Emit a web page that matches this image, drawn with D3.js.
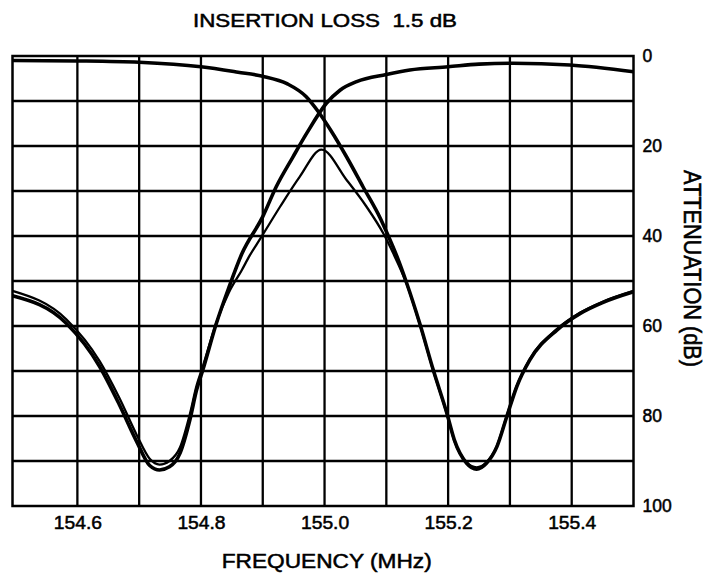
<!DOCTYPE html>
<html><head><meta charset="utf-8">
<script src="https://cdn.jsdelivr.net/npm/d3@7"></script>
<style>
body{margin:0;background:#fff}
svg{display:block}
text{font-family:"Liberation Sans",Arial,Helvetica,sans-serif;fill:#000}
</style>
</head><body>
<svg id="c" width="718" height="575"></svg>
<script>
// ---- text ----
const chartTitle = "INSERTION LOSS  1.5 dB";
const xTitle = "FREQUENCY (MHz)";
const yTitle = "ATTENUATION (dB)";

// ---- ticks / grid ----
const xTickLabels = [154.6, 154.8, 155.0, 155.2, 155.4];
const yTickLabels = [0, 20, 40, 60, 80, 100];
const xGridValues = [154.6, 154.7, 154.8, 154.9, 155.0, 155.1, 155.2, 155.3, 155.4];
const yGridValues = [10, 20, 30, 40, 50, 60, 70, 80, 90];

// ---- series A: low-side passband, notch at ~155.25 MHz ----
const freqA = [154.495, 154.6, 154.7, 154.8, 154.86, 154.9, 154.94, 154.97, 154.99, 155.01, 155.036, 155.062, 155.09, 155.1, 155.117, 155.133, 155.154, 155.176, 155.198, 155.21, 155.23, 155.246, 155.262, 155.279, 155.295, 155.311, 155.332, 155.376, 155.414, 155.45, 155.5];
const lossA = [1.0, 1.1, 1.4, 2.4, 3.6, 4.5, 6.2, 9.0, 12.4, 16.5, 22.5, 29.0, 36.0, 39.0, 44.5, 50.5, 59.4, 69.8, 79.4, 85.3, 90.5, 91.8, 90.5, 86.8, 80.1, 73.5, 67.6, 60.9, 57.2, 54.8, 52.4];

// ---- series B: high-side passband, notch at ~154.73 MHz ----
const freqB = [154.495, 154.582, 154.636, 154.668, 154.696, 154.717, 154.733, 154.749, 154.766, 154.782, 154.793, 154.803, 154.825, 154.845, 154.866, 154.9, 154.922, 154.949, 154.971, 155.003, 155.025, 155.052, 155.1, 155.138, 155.2, 155.25, 155.305, 155.397, 155.5];
const lossB = [53.3, 59.4, 69.0, 77.5, 85.7, 91.0, 92.0, 91.3, 88.3, 80.9, 74.2, 69.8, 59.4, 51.5, 44.0, 35.7, 29.0, 22.4, 17.2, 10.5, 7.6, 5.7, 4.1, 3.1, 2.4, 1.8, 1.6, 2.0, 3.5];

// ---- series C: thin isolation curve ----
const freqC = [154.495, 154.582, 154.636, 154.668, 154.696, 154.717, 154.733, 154.749, 154.766, 154.782, 154.793, 154.803, 154.825, 154.845, 154.866, 154.879, 154.896, 154.928, 154.96, 154.995, 155.036, 155.068, 155.095, 155.111, 155.133, 155.154, 155.176, 155.198, 155.21, 155.23, 155.246, 155.262, 155.279, 155.295, 155.311, 155.332, 155.376, 155.414, 155.45, 155.5];
const lossC = [52.2, 58.5, 67.8, 76.0, 84.2, 89.5, 90.8, 90.0, 87.0, 79.6, 73.2, 69.0, 59.2, 52.6, 47.6, 44.3, 40.6, 33.5, 26.8, 20.8, 27.6, 33.5, 39.4, 43.8, 50.7, 59.6, 70.0, 79.6, 85.5, 90.3, 91.4, 90.3, 86.6, 79.9, 73.3, 67.4, 60.7, 57.0, 54.6, 52.2];

const svg = d3.select("#c");
const x = d3.scaleLinear().domain([154.495, 155.5]).range([12.5, 633.5]);
const y = d3.scaleLinear().domain([0, 100]).range([56, 506]);

const [x0, x1] = x.range();
const [y0, y1] = y.range();

// grid
svg.append("g").selectAll("line").data(xGridValues).join("line")
  .attr("x1", d => x(d)).attr("x2", d => x(d))
  .attr("y1", y0).attr("y2", y1)
  .attr("stroke", "#000").attr("stroke-width", 2.3);
svg.append("g").selectAll("line").data(yGridValues).join("line")
  .attr("x1", x0).attr("x2", x1)
  .attr("y1", d => y(d)).attr("y2", d => y(d))
  .attr("stroke", "#000").attr("stroke-width", 2.3);

// frame
svg.append("rect").attr("x", x0).attr("y", y0)
  .attr("width", x1 - x0).attr("height", y1 - y0)
  .attr("fill", "none").attr("stroke", "#000").attr("stroke-width", 2.5);

// curves
svg.append("defs").append("clipPath").attr("id", "clip")
  .append("rect").attr("x", x0).attr("y", y0).attr("width", x1 - x0).attr("height", y1 - y0);

const line = d3.line().x(d => x(d.f)).y(d => y(d.a)).curve(d3.curveMonotoneX);
const toPts = (fs, as) => fs.map((f, i) => ({f, a: as[i]}));

const g = svg.append("g").attr("clip-path", "url(#clip)");
g.append("path").attr("d", line(toPts(freqC, lossC)))
  .attr("fill", "none").attr("stroke", "#000").attr("stroke-width", 2.3);
g.append("path").attr("d", line(toPts(freqA, lossA)))
  .attr("fill", "none").attr("stroke", "#000").attr("stroke-width", 3.6);
g.append("path").attr("d", line(toPts(freqB, lossB)))
  .attr("fill", "none").attr("stroke", "#000").attr("stroke-width", 3.6);

// axes
const xAxis = svg.append("g").attr("transform", `translate(0,${y1})`)
  .call(d3.axisBottom(x).tickValues(xTickLabels).tickSize(0).tickPadding(10).tickFormat(d3.format(".1f")));
xAxis.select(".domain").remove();
xAxis.selectAll("text").attr("font-size", 18).attr("transform", "scale(1.07,1)")
  .attr("stroke", "#000").attr("stroke-width", 0.5)
  .style("font-family", '"Liberation Sans",Arial,sans-serif');

const yAxis = svg.append("g").attr("transform", `translate(${x1},0)`)
  .call(d3.axisRight(y).tickValues(yTickLabels).tickSize(0).tickPadding(9));
yAxis.select(".domain").remove();
yAxis.selectAll("text").attr("font-size", 17.5)
  .attr("stroke", "#000").attr("stroke-width", 0.5)
  .style("font-family", '"Liberation Sans",Arial,sans-serif');

// titles
svg.append("text").attr("x", 325).attr("y", 26.5)
  .attr("text-anchor", "middle").attr("font-size", 18.5)
  .attr("textLength", 264).attr("lengthAdjust", "spacingAndGlyphs")
  .style("white-space", "pre")
  .attr("stroke", "#000").attr("stroke-width", 0.5)
  .text(chartTitle);

svg.append("text").attr("x", 326.7).attr("y", 568)
  .attr("text-anchor", "middle").attr("font-size", 20)
  .attr("textLength", 210).attr("lengthAdjust", "spacingAndGlyphs")
  .attr("stroke", "#000").attr("stroke-width", 0.5)
  .text(xTitle);

svg.append("text")
  .attr("transform", "translate(684,268.5) rotate(90) scale(1,1.18)")
  .attr("text-anchor", "middle").attr("font-size", 20.5)
  .attr("textLength", 197).attr("lengthAdjust", "spacingAndGlyphs")
  .attr("stroke", "#000").attr("stroke-width", 0.5)
  .text(yTitle);
</script>
</body></html>
